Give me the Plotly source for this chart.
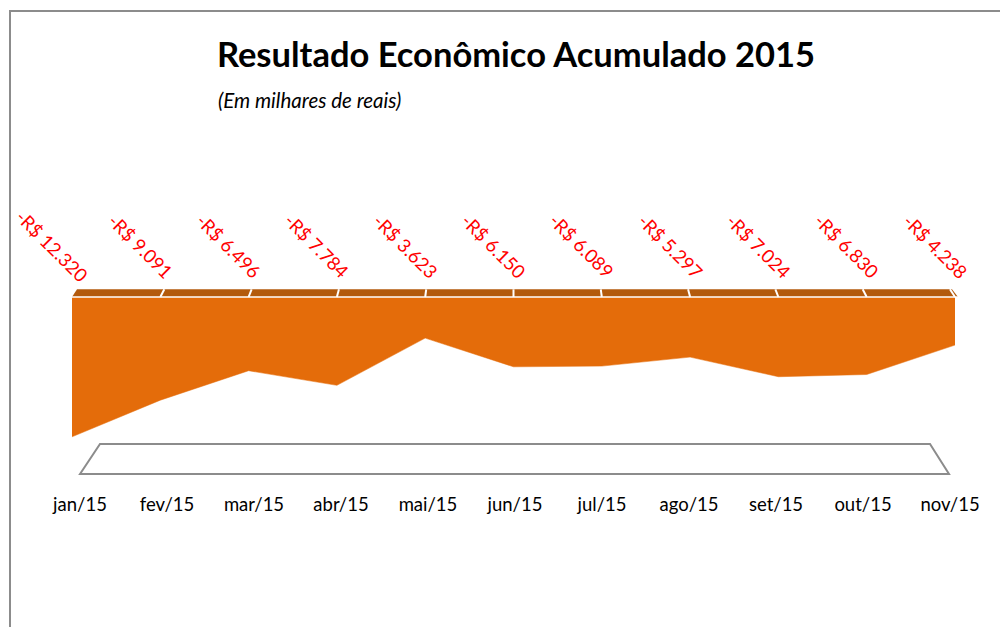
import plotly.graph_objects as go

MONTHS = ["jan/15", "fev/15", "mar/15", "abr/15", "mai/15", "jun/15",
          "jul/15", "ago/15", "set/15", "out/15", "nov/15"]
RESULT = [-12320, -9091, -6496, -7784, -3623, -6150, -6089, -5297, -7024, -6830, -4238]

ORANGE = "#e46c0a"
TOP_FACE = "#b35a0c"
FRAME = "#8c8c8c"
FONT = "Lato, 'Open Sans', sans-serif"

W, H = 1008, 627
MB = 144  # bottom margin: plot area is the top 483 px
PH = H - MB
UNITS_PX = 88.1  # value units per pixel
X0, STEP = 64, 88.3  # back edge: pixel of first category, pixels per category
FX0, FSTEP = 72, 87.0  # floor edge (tick labels) sits a bit narrower
BASE = 289  # pixel row of the zero line

x_range = [-X0 / STEP, (W - X0) / STEP]
x2_range = [-FX0 / FSTEP, (W - FX0) / FSTEP]
y_hi = BASE * UNITS_PX
y_range = [y_hi - PH * UNITS_PX, y_hi]

idx = list(range(len(MONTHS)))
n = len(MONTHS) - 1
depth = 680  # top face thickness in value units

fig = go.Figure()
fig.add_trace(go.Scatter(
    x=idx, y=RESULT, mode="lines", fill="tozeroy",
    fillcolor=ORANGE, line=dict(color=ORANGE, width=0.5),
    hoverinfo="skip", showlegend=False,
))
# carrier for the category axis along the floor
fig.add_trace(go.Scatter(
    x=idx, y=RESULT, xaxis="x2", mode="markers", marker=dict(opacity=0),
    hoverinfo="skip", showlegend=False,
))

shapes = []
# top face of the 3d area
shapes.append(dict(
    type="path", xref="x", yref="y", layer="below",
    path=f"M 0,0 L 0.057,{depth} L {n - 0.034},{depth} L {n + 0.034},0 Z",
    fillcolor=TOP_FACE, line=dict(width=0),
))
shapes.append(dict(type="line", xref="x", yref="y", x0=0, x1=n + 0.034, y0=0, y1=0,
                   line=dict(color="white", width=1.5)))
mid = n / 2
for i in range(1, n + 1):
    shapes.append(dict(
        type="line", xref="x", yref="y",
        x0=i, y0=0, x1=i + (mid - i) * 0.0114, y1=depth,
        line=dict(color="white", width=2),
    ))
# floor
shapes.append(dict(
    type="path", xref="x", yref="y",
    path="M 0.317,-12951 L 9.717,-12951 L 9.932,-15594 L 0.091,-15594 Z",
    fillcolor="white", line=dict(color=FRAME, width=2),
))
# chart frame
shapes.append(dict(
    type="rect", xref="paper", yref="paper",
    x0=2 / W, x1=1.05, y0=-0.5, y1=1 - 3 / PH,
    line=dict(color=FRAME, width=2), fillcolor="rgba(0,0,0,0)",
))

annotations = []
for i, v in zip(idx, RESULT):
    label = "-R$ " + f"{-v:,}".replace(",", ".")
    annotations.append(dict(
        x=i, y=(BASE - 238) * UNITS_PX, xref="x", yref="y", xshift=-20,
        xanchor="center", yanchor="middle",
        text=label, textangle=45, showarrow=False,
        font=dict(family=FONT, size=18.5, color="#ff0000"),
    ))
annotations.append(dict(
    x=301.5 / W, y=1 - 92 / PH, xref="paper", yref="paper",
    xanchor="center", yanchor="middle",
    text="<i>(Em milhares de reais)</i>", showarrow=False,
    font=dict(family=FONT, size=20.5, color="black"),
))

fig.update_layout(
    width=W, height=H,
    paper_bgcolor="white", plot_bgcolor="white",
    margin=dict(l=0, r=0, t=0, b=MB),
    title=dict(text="<b>Resultado Econômico Acumulado 2015</b>",
               x=508 / W, xanchor="center", y=1 - 47 / H, yanchor="middle",
               yref="container", font=dict(family=FONT, size=34.5, color="black")),
    xaxis=dict(range=x_range, showticklabels=False, showgrid=False,
               zeroline=False, showline=False, ticks=""),
    xaxis2=dict(range=x2_range, overlaying="x", side="bottom", anchor="y",
                tickvals=idx, ticktext=MONTHS, showgrid=False,
                zeroline=False, showline=False, ticks="",
                tickfont=dict(family=FONT, size=18.5, color="black")),
    yaxis=dict(range=y_range, visible=False),
    shapes=shapes,
    annotations=annotations,
    showlegend=False,
)

fig.write_html("out.html")
